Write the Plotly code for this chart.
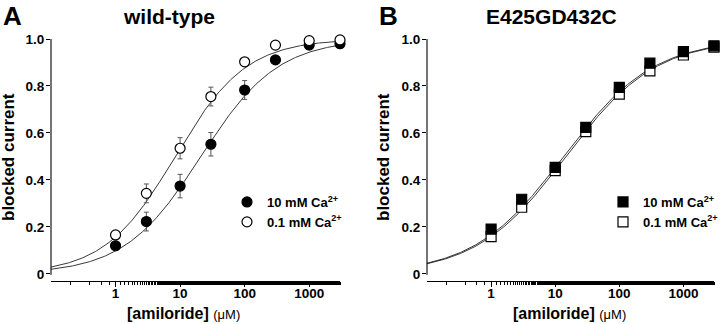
import numpy as np
import plotly.graph_objects as go

# ---------------- data ----------------
conc = [1, 3, 10, 30, 100, 300, 1000, 3000]  # µM amiloride

# Panel A: wild-type
wt_ca10 = [0.12, 0.223, 0.374, 0.552, 0.783, 0.911, 0.974, 0.98]
wt_ca10_err = [0.015, 0.04, 0.05, 0.05, 0.04, 0.0, 0.0, 0.0]
wt_ca01 = [0.166, 0.343, 0.535, 0.755, 0.903, 0.974, 0.993, 0.996]
wt_ca01_err = [0.01, 0.04, 0.045, 0.04, 0.0, 0.0, 0.0, 0.0]

# Panel B: E425GD432C
mut_ca10 = [0.191, 0.318, 0.454, 0.624, 0.794, 0.897, 0.946, 0.971]
mut_ca10_err = [0.0, 0.0, 0.0, 0.0, 0.0, 0.0, 0.0, 0.0]
mut_ca01 = [0.159, 0.284, 0.44, 0.606, 0.765, 0.864, 0.932, 0.965]
mut_ca01_err = [0.0, 0.0, 0.0, 0.02, 0.0, 0.0, 0.0, 0.0]

# Hill fit parameters (IC50 in µM, Hill coefficient)
fit_wt_ca10 = (21.0, 0.73)
fit_wt_ca01 = (8.4, 0.79)
fit_mut_ca10 = (13.5, 0.62)
fit_mut_ca01 = (14.7, 0.62)

y_tickvals = [0, 0.2, 0.4, 0.6, 0.8, 1.0]
y_ticktext = ["0", "0.2", "0.4", "0.6", "0.8", "1.0"]
x_tickvals = [1, 10, 100, 1000]
x_ticktext = ["1", "10", "100", "1000"]

legend_labels = ["10 mM Ca<sup>2+</sup>", "0.1 mM Ca<sup>2+</sup>"]
titles = ["wild-type", "E425GD432C"]
panel_letters = ["A", "B"]

# ---------------- figure ----------------
W, H = 720, 324
FONT = "Liberation Sans, Arial, Helvetica, sans-serif"


def px(x):
    return x / W


def py(y):
    return 1 - y / H


xfit = np.logspace(-1, np.log10(3000), 300)


def hill(x, p):
    ic50, n = p
    return 1.0 / (1.0 + (ic50 / x) ** n)


fig = go.Figure()

ERR_COLOR = "#555555"


def add_points(ys, err, symbol, fill, xa, ya, name, legend):
    fig.add_trace(go.Scatter(
        x=conc, y=ys, mode="markers", name=name, xaxis=xa, yaxis=ya,
        legend=legend, cliponaxis=False,
        marker=dict(symbol=symbol, size=10, color=fill,
                    line=dict(color="black", width=1.2)),
        error_y=dict(type="data", array=err, visible=True,
                     color=ERR_COLOR, thickness=1, width=2.5),
    ))


def add_fit(p, xa, ya):
    fig.add_trace(go.Scatter(
        x=xfit, y=hill(xfit, p), mode="lines", xaxis=xa, yaxis=ya,
        line=dict(color="#222222", width=0.9), showlegend=False,
        hoverinfo="skip", cliponaxis=False,
    ))


# Panel A
add_fit(fit_wt_ca10, "x", "y")
add_fit(fit_wt_ca01, "x", "y")
add_points(wt_ca10, wt_ca10_err, "circle", "black", "x", "y", legend_labels[0], "legend")
add_points(wt_ca01, wt_ca01_err, "circle", "white", "x", "y", legend_labels[1], "legend")

# Panel B (filled drawn on top)
add_fit(fit_mut_ca10, "x2", "y2")
add_fit(fit_mut_ca01, "x2", "y2")
add_points(mut_ca01, mut_ca01_err, "square", "white", "x2", "y2", legend_labels[1], "legend2")
add_points(mut_ca10, mut_ca10_err, "square", "black", "x2", "y2", legend_labels[0], "legend2")

tickfont = dict(family=FONT, size=13.5, color="black", weight="bold")

xrange_log = [-1, np.log10(3000)]
ydom = [py(281), py(39)]
yrange = [-0.03, 1.0]

common_x = dict(
    type="log", range=xrange_log, showline=True, linecolor="black", linewidth=1.1,
    ticks="outside", ticklen=5, tickwidth=1.1, tickcolor="black",
    tickvals=x_tickvals, ticktext=x_ticktext, tickfont=tickfont,
    showgrid=False, zeroline=False, automargin=False, ticklabelstandoff=-5,
    minor=dict(ticks="outside", ticklen=3, tickwidth=0.8, tickcolor="black",
               showgrid=False),
)
common_y = dict(
    range=yrange, domain=ydom, showline=False, automargin=False,
    ticks="outside", ticklen=4, tickwidth=1.1, tickcolor="black",
    tickvals=y_tickvals, ticktext=y_ticktext, tickfont=tickfont,
    showgrid=False, zeroline=False, ticklabelstandoff=-1,
)

leg_font = dict(family=FONT, size=13, color="black", weight="bold")
fig.update_layout(
    width=W, height=H, margin=dict(l=0, r=0, t=0, b=0, pad=0, autoexpand=False),
    paper_bgcolor="white", plot_bgcolor="white",
    xaxis=dict(domain=[px(51), px(340)], anchor="y", **common_x),
    yaxis=dict(anchor="x", **common_y),
    xaxis2=dict(domain=[px(427), px(714)], anchor="y2", **common_x),
    yaxis2=dict(anchor="x2", **common_y),
    legend=dict(x=px(227), y=py(187), xanchor="left", yanchor="top",
                font=leg_font, bgcolor="rgba(0,0,0,0)", itemwidth=30,
                tracegroupgap=0, traceorder="normal"),
    legend2=dict(x=px(603), y=py(187), xanchor="left", yanchor="top",
                 font=leg_font, bgcolor="rgba(0,0,0,0)", itemwidth=30,
                 tracegroupgap=0, traceorder="reversed"),
    showlegend=True,
)

# y-axis lines (offset from x axis, Prism style), spanning 0..1
for xr, yr in [("x domain", "y"), ("x2 domain", "y2")]:
    fig.add_shape(type="line", xref=xr, yref=yr, x0=0, x1=0, y0=-0.003, y1=1.0,
                  line=dict(color="black", width=1.1))

ANN = dict(xref="paper", yref="paper", showarrow=False,
           xanchor="center", yanchor="middle")

# annotations: titles, letters, axis titles
for t, xx in zip(titles, [px(169), px(551)]):
    fig.add_annotation(text="<b>" + t + "</b>", x=xx, y=py(16),
                       font=dict(family=FONT, size=21, color="black"), **ANN)

for letter, xx in zip(panel_letters, [px(12), px(388)]):
    fig.add_annotation(text="<b>" + letter + "</b>", x=xx, y=py(16),
                       font=dict(family=FONT, size=26, color="black"), **ANN)

for xx in [px(9), px(384)]:
    fig.add_annotation(text="<b>blocked current</b>", x=xx, y=py(157), textangle=-90,
                       font=dict(family=FONT, size=17, color="black"), **ANN)

for xx in [px(183), px(569)]:
    fig.add_annotation(
        text="<b>[amiloride]</b> <span style='font-size:13px'>(μM)</span>",
        x=xx, y=py(313),
        font=dict(family=FONT, size=16, color="black"), **ANN)

fig.write_html("out.html")
